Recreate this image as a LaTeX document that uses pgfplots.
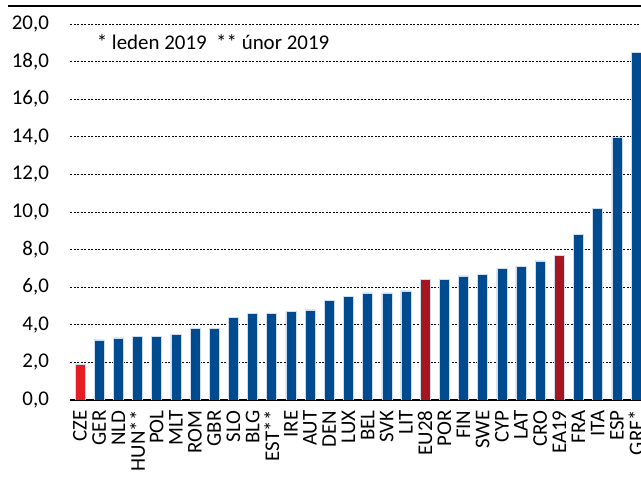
\documentclass[border=0pt]{standalone}
\usepackage{fontspec}
\setmainfont{Carlito}
\usepackage{pgfplots}
\pgfplotsset{compat=1.18}
\definecolor{barblue}{RGB}{0,74,143}
\definecolor{czred}{RGB}{227,30,36}
\definecolor{eured}{RGB}{166,22,32}
\definecolor{halo}{RGB}{205,220,238}
\begin{document}
\begin{tikzpicture}
\useasboundingbox (0,0) rectangle (641bp,477bp);
\draw[line width=1.5bp] (8bp,471bp) -- (641bp,471bp);
\begin{axis}[
  at={(70.4bp,77bp)}, anchor=south west,
  scale only axis, width=570.6bp, height=376bp,
  xmin=-0.5, xmax=29.26, ymin=0, ymax=20,
  ytick={0,2,...,20},
  xtick={0,...,29},
  xticklabels={CZE,GER,NLD,HUN**,POL,MLT,ROM,GBR,SLO,BLG,EST**,IRE,AUT,DEN,LUX,BEL,SVK,LIT,EU28,POR,FIN,SWE,CYP,LAT,CRO,EA19,FRA,ITA,ESP,GRF*},
  axis x line*=bottom, axis y line*=left,
  x axis line style={line width=1.2bp, black},
  y axis line style={draw=none},
  major tick length=0pt,
  ymajorgrids,
  grid style={black, dash pattern=on 2bp off 1.5bp, line width=0.6bp},
  tick label style={font=\fontsize{21}{25}\selectfont},
  x tick label style={rotate=90, anchor=east, xshift=-7bp},
  y tick label style={xshift=-18bp},
  /pgf/number format/.cd, use comma, fixed, fixed zerofill, precision=1, assume math mode=true,
]
\addplot[ybar, bar width=10bp, bar shift=0pt, fill=barblue, draw=halo, line width=0.5bp] coordinates {
 (1,3.2) (2,3.3) (3,3.4) (4,3.4) (5,3.5) (6,3.8) (7,3.8) (8,4.4) (9,4.6) (10,4.6)
 (11,4.7) (12,4.8) (13,5.3) (14,5.5) (15,5.7) (16,5.7) (17,5.8)
 (19,6.4) (20,6.6) (21,6.7) (22,7.0) (23,7.1) (24,7.4)
 (26,8.8) (27,10.2) (28,14.0) (29,18.5)};
\addplot[ybar, bar width=10bp, bar shift=0pt, fill=czred, draw=halo, line width=0.5bp] coordinates {(0,1.9)};
\addplot[ybar, bar width=10bp, bar shift=0pt, fill=eured, draw=halo, line width=0.5bp] coordinates {(18,6.4) (25,7.7)};
\node[anchor=base west, inner sep=0pt, font=\fontsize{21}{25}\selectfont] at (rel axis cs:0.046,0.931) {* leden 2019\ \ ** únor 2019};
\end{axis}
\end{tikzpicture}
\end{document}
